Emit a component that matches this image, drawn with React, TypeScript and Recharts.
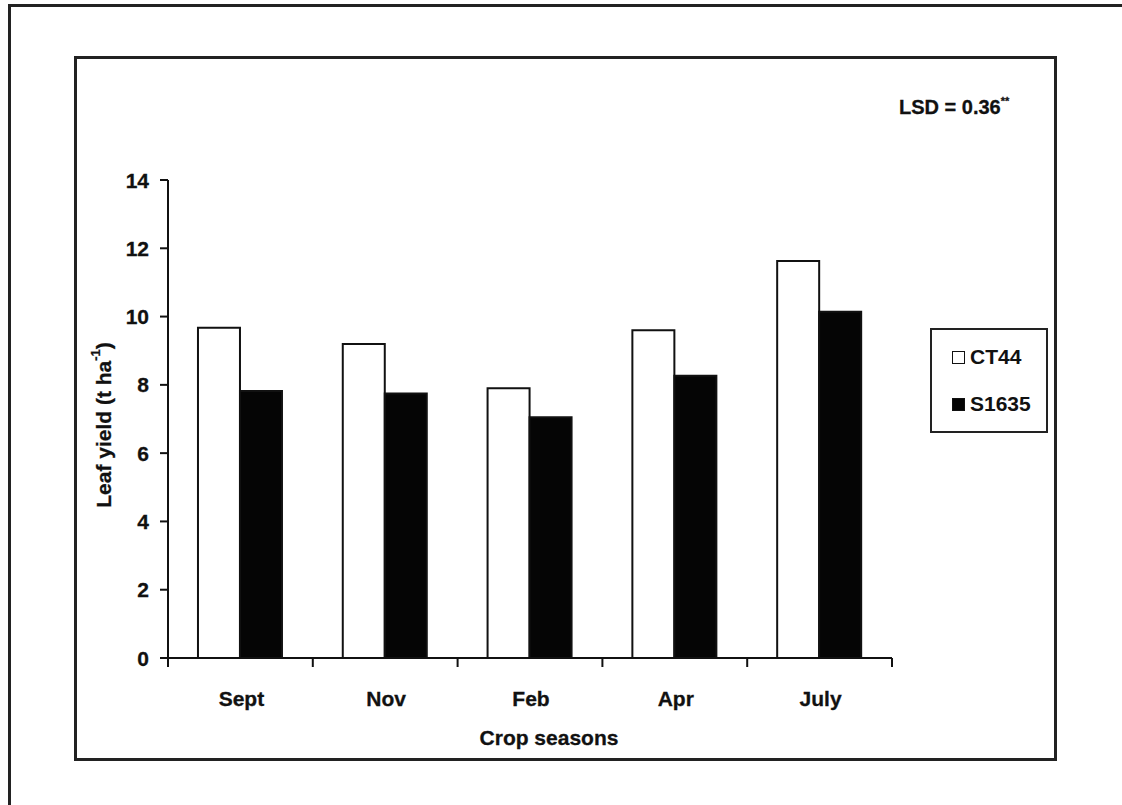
import React from 'react';
import { BarChart, Bar, XAxis, YAxis } from 'recharts';

const categories = ['Sept', 'Nov', 'Feb', 'Apr', 'July'];
const ct44Values = [9.67, 9.2, 7.9, 9.6, 11.63];
const s1635Values = [7.82, 7.75, 7.05, 8.27, 10.14];
const yTicks = [0, 2, 4, 6, 8, 10, 12, 14];
const seriesNames = ['CT44', 'S1635'];
const seriesFills = ['#ffffff', '#050505'];

const data = categories.map((c, i) => ({ season: c, CT44: ct44Values[i], S1635: s1635Values[i] }));

const FONT = '"Liberation Sans", Arial, sans-serif';
const INK = '#111111';

const YTick = (props: any) => {
  const { x, y, payload } = props;
  return (
    <text x={x} y={y} textAnchor="end" dominantBaseline="central" fontFamily={FONT} fontWeight="bold" fontSize={21} fill={INK} stroke={INK} strokeWidth={0.3}>
      {payload.value}
    </text>
  );
};

const XTick = (props: any) => {
  const { x, y, payload, index, visibleTicksCount } = props;
  const count = visibleTicksCount || categories.length;
  const band = (props.width && props.width > 100 ? props.width : 724) / count;
  const half = band / 2;
  return (
    <g>
      <line x1={x - half} x2={x - half} y1={y} y2={y + 9} stroke={INK} strokeWidth={2} />
      {index === count - 1 && <line x1={x + half} x2={x + half} y1={y} y2={y + 9} stroke={INK} strokeWidth={2} />}
      <text x={x + 1} y={y + 48} textAnchor="middle" fontFamily={FONT} fontWeight="bold" fontSize={21} fill={INK} stroke={INK} strokeWidth={0.3}>
        {payload.value}
      </text>
    </g>
  );
};

export default function App() {
  return (
    <div style={{ position: 'absolute', left: 0, top: 0, width: 1122, height: 805, background: '#fff', overflow: 'hidden' }}>
      <div style={{ position: 'absolute', left: 8, top: 4, width: 1130, height: 820, borderLeft: '3px solid #222', borderTop: '3px solid #222' }} />
      <div style={{ position: 'absolute', left: 74, top: 56, width: 977, height: 699, border: '3px solid #222' }} />
      <div style={{ position: 'absolute', left: 0, top: 0 }}>
        <BarChart width={1122} height={805} data={data} margin={{ top: 180, right: 230, bottom: 87, left: 88 }} barCategoryGap="20.7%" barGap={0}>
          <XAxis dataKey="season" height={60} axisLine={{ stroke: INK, strokeWidth: 2 }} tickLine={false} tickSize={0} tickMargin={0} tick={<XTick />} interval={0} />
          <YAxis width={80} domain={[0, 14]} ticks={yTicks} interval={0} axisLine={{ stroke: INK, strokeWidth: 2 }} tickLine={{ stroke: INK, strokeWidth: 2 }} tickSize={8} tickMargin={11} tick={<YTick />} />
          <Bar dataKey="CT44" fill={seriesFills[0]} stroke={INK} strokeWidth={2} isAnimationActive={false} />
          <Bar dataKey="S1635" fill={seriesFills[1]} stroke={INK} strokeWidth={2} isAnimationActive={false} />
        </BarChart>
      </div>
      <svg width={1122} height={805} style={{ position: 'absolute', left: 0, top: 0, pointerEvents: 'none' }}>
        <text x={103} y={425} transform="rotate(-90 103 425)" textAnchor="middle" dominantBaseline="central" fontFamily={FONT} fontWeight="bold" fontSize={21} fill={INK} stroke={INK} strokeWidth={0.3}>
          Leaf yield (t ha<tspan dy={-8} fontSize={13}>-1</tspan><tspan dy={8}>)</tspan>
        </text>
        <text x={549} y={745} textAnchor="middle" fontFamily={FONT} fontWeight="bold" fontSize={21} fill={INK} stroke={INK} strokeWidth={0.3}>
          Crop seasons
        </text>
        <text x={899} y={114} fontFamily={FONT} fontWeight="bold" fontSize={20} fill={INK} stroke={INK} strokeWidth={0.3}>
          LSD = 0.36<tspan dy={-9} fontSize={11}>**</tspan>
        </text>
      </svg>
      <div style={{ position: 'absolute', left: 930, top: 328, width: 114, height: 101, border: '2px solid #222', background: '#fff', fontFamily: FONT, fontWeight: 'bold', fontSize: 21, color: INK }}>
        {seriesNames.map((name, i) => (
          <div key={name} style={{ position: 'absolute', left: 20, top: i === 0 ? 15 : 62, display: 'flex', alignItems: 'center' }}>
            <span style={{ display: 'inline-block', width: 11, height: 11, border: '1.5px solid #111', background: seriesFills[i], marginRight: 5 }} />
            <span>{name}</span>
          </div>
        ))}
      </div>
    </div>
  );
}
